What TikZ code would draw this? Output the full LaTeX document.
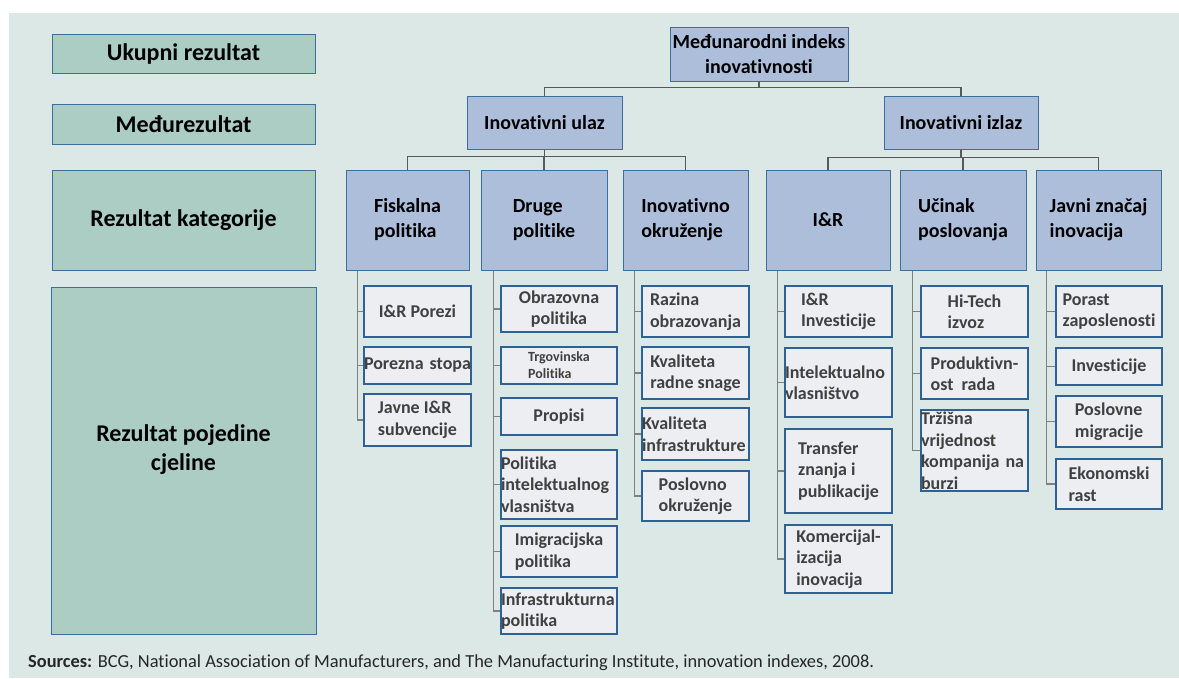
\documentclass[tikz,border=0pt]{standalone}
\usepackage{fontspec}
\setmainfont{Carlito}[Ligatures=NoCommon]
\usetikzlibrary{positioning}

\definecolor{bgc}{RGB}{219,232,229}
\definecolor{legfill}{RGB}{171,205,196}
\definecolor{lvlfill}{RGB}{173,190,219}
\definecolor{leaffill}{RGB}{236,238,241}
\definecolor{boxline}{RGB}{60,110,160}
\definecolor{leafline}{RGB}{46,98,148}
\definecolor{leaftext}{RGB}{64,64,64}

\tikzset{
  legend/.style={draw=boxline, fill=legfill, line width=1pt, inner sep=0pt, align=center,
    font=\fontsize{24}{29}\selectfont\bfseries},
  level/.style={draw=boxline, fill=lvlfill, line width=1pt, inner sep=0pt, align=left,
    font=\fontsize{20}{25}\selectfont\bfseries},
  leaf/.style={draw=leafline, fill=leaffill, line width=1.2pt, inner sep=0pt, align=left,
    text=leaftext, font=\fontsize{18}{21.5}\selectfont\bfseries},
  bus/.style={draw=black!65, line width=1.1pt},
  spine/.style={draw=black!50, line width=1.5pt}
}

\begin{document}
\begin{tikzpicture}[x=1pt,y=-1pt]
\useasboundingbox (0,0) rectangle (1179,678);
\fill[white] (0,0) rectangle (1179,678);
\fill[bgc] (9,13) rectangle (1179,678);

% legend column
\node[legend, minimum width=263pt, minimum height=39pt] (uk) at (183.5,53.5) {Ukupni rezultat};
\node[legend, minimum width=263pt, minimum height=40pt] (med) at (183.5,124) {Međurezultat};
\node[legend, minimum width=263pt, minimum height=100pt] (kat) at (183.5,220) {Rezultat kategorije};
\node[legend, minimum width=265pt, minimum height=347pt] (cjel) at (183.5,460.5) {};
\node[font=\fontsize{24}{29}\selectfont\bfseries, align=center] (cjeltxt) at (183.5,450) {Rezultat pojedine\\cjeline};

% level 1 and 2
\node[level, align=center, minimum width=178pt, minimum height=54pt] (root) at (759,54) {Međunarodni indeks\\inovativnosti};
\node[level, minimum width=155pt, minimum height=53pt] (ulaz) at (544.5,122.5) {Inovativni ulaz};
\node[level, minimum width=154pt, minimum height=53pt] (izlaz) at (961,122.5) {Inovativni izlaz};

% level 3
\node[level, minimum width=123pt, minimum height=100pt] (fisk) at (407.5,220) {Fiskalna\\politika};
\node[level, minimum width=126pt, minimum height=100pt] (druge) at (544,220) {Druge\\politike};
\node[level, minimum width=125pt, minimum height=100pt] (inov) at (685.5,220) {Inovativno\\okruženje};
\node[level, minimum width=124pt, minimum height=100pt] (ir) at (828,220) {I\&R};
\node[level, minimum width=126pt, minimum height=100pt] (ucinak) at (963,220) {Učinak\\poslovanja};
\node[level, minimum width=125pt, minimum height=100pt] (javni) at (1098.5,220) {Javni značaj\\inovacija};

\draw[bus] (root.south) -- ++(0,6) -| (ulaz.north);
\draw[bus] (root.south) -- ++(0,6) -| (izlaz.north);
\foreach \c in {fisk,druge,inov}
  \draw[bus] (ulaz.south) -- ++(0,7) -| (\c.north);
\foreach \c in {ir,ucinak,javni}
  \draw[bus] (izlaz.south) -- ++(0,8) -| (\c.north);

% leaves
\node[leaf, minimum width=107pt, minimum height=51pt] (porezi) at (417.5,311.5) {I\&R Porezi};
\node[leaf, text width=107pt, minimum height=37pt] (stopa) at (417.5,365.5) {\mbox{Porezna stopa}};
\node[leaf, minimum width=107pt, minimum height=52pt] (subv) at (417.5,420) {Javne I\&R\\subvencije};

\node[leaf, align=center, minimum width=116pt, minimum height=46pt] (obraz) at (559,309) {Obrazovna\\politika};
\node[leaf, minimum width=116pt, minimum height=37pt, font=\fontsize{14}{17}\selectfont\bfseries] (trgov) at (559,365.5) {Trgovinska\\Politika};
\node[leaf, minimum width=116pt, minimum height=37pt] (propisi) at (559,416.5) {Propisi};
\node[leaf, text width=116pt, minimum height=69pt] (intel) at (559,484.5) {Politika\\intelektualnog\\vlasništva};
\node[leaf, minimum width=116pt, minimum height=51pt] (imigr) at (559,551.5) {Imigracijska\\politika};
\node[leaf, text width=116pt, minimum height=46pt] (infra) at (559,611) {Infrastrukturna\\politika};

\node[leaf, minimum width=107pt, minimum height=51pt] (razina) at (695.5,311.5) {Razina\\obrazovanja};
\node[leaf, minimum width=107pt, minimum height=52pt] (radna) at (695.5,373) {Kvaliteta\\radne snage};
\node[leaf, text width=107pt, minimum height=52pt] (infrakv) at (695.5,434) {Kvaliteta\\infrastrukture};
\node[leaf, minimum width=107pt, minimum height=50pt] (poslok) at (695.5,496) {Poslovno\\okruženje};

\node[leaf, minimum width=107pt, minimum height=51pt] (irinv) at (838.5,311.5) {I\&R\\Investicije};
\node[leaf, text width=107pt, minimum height=69pt] (intvl) at (838.5,382.5) {Intelektualno\\vlasništvo};
\node[leaf, minimum width=107pt, minimum height=84pt] (transfer) at (838.5,471) {Transfer\\znanja i\\publikacije};
\node[leaf, minimum width=107pt, minimum height=68pt] (komerc) at (838.5,559) {Komercijal-\\izacija\\inovacija};

\node[leaf, minimum width=107pt, minimum height=51pt] (hitech) at (974.5,311.5) {Hi-Tech\\izvoz};
\node[leaf, minimum width=107pt, minimum height=51pt] (produkt) at (974.5,373.5) {Produktivn-\\ost\ \ rada};
\node[leaf, text width=107pt, minimum height=81pt] (trzisna) at (974.5,450.5) {Tržišna\\vrijednost\\kompanija na\\burzi};

\node[leaf, minimum width=106pt, minimum height=51pt] (porast) at (1109,311.5) {Porast\\zaposlenosti};
\node[leaf, minimum width=106pt, minimum height=37pt] (invest) at (1109,366.5) {Investicije};
\node[leaf, minimum width=106pt, minimum height=51pt] (migr) at (1109,421.5) {Poslovne\\migracije};
\node[leaf, minimum width=106pt, minimum height=50pt] (ekon) at (1109,484) {Ekonomski\\rast};

% spines
\foreach \b in {porezi,stopa,subv}
  \draw[spine] ([xshift=12pt]fisk.south west) |- (\b.west);
\foreach \b in {obraz,trgov,propisi,intel,imigr,infra}
  \draw[spine] ([xshift=13pt]druge.south west) |- (\b.west);
\foreach \b in {razina,radna,infrakv,poslok}
  \draw[spine] ([xshift=12pt]inov.south west) |- (\b.west);
\foreach \b in {irinv,intvl,transfer,komerc}
  \draw[spine] ([xshift=12pt]ir.south west) |- (\b.west);
\foreach \b in {hitech,produkt,trzisna}
  \draw[spine] ([xshift=13pt]ucinak.south west) |- (\b.west);
\foreach \b in {porast,invest,migr,ekon}
  \draw[spine] ([xshift=11pt]javni.south west) |- (\b.west);

\node[anchor=west, inner sep=0pt, text=black!85, font=\fontsize{18.4}{22}\selectfont] (src) at (28,663)
  {\textbf{Sources:} BCG, National Association of Manufacturers, and The Manufacturing Institute, innovation indexes, 2008.};
\end{tikzpicture}
\end{document}
